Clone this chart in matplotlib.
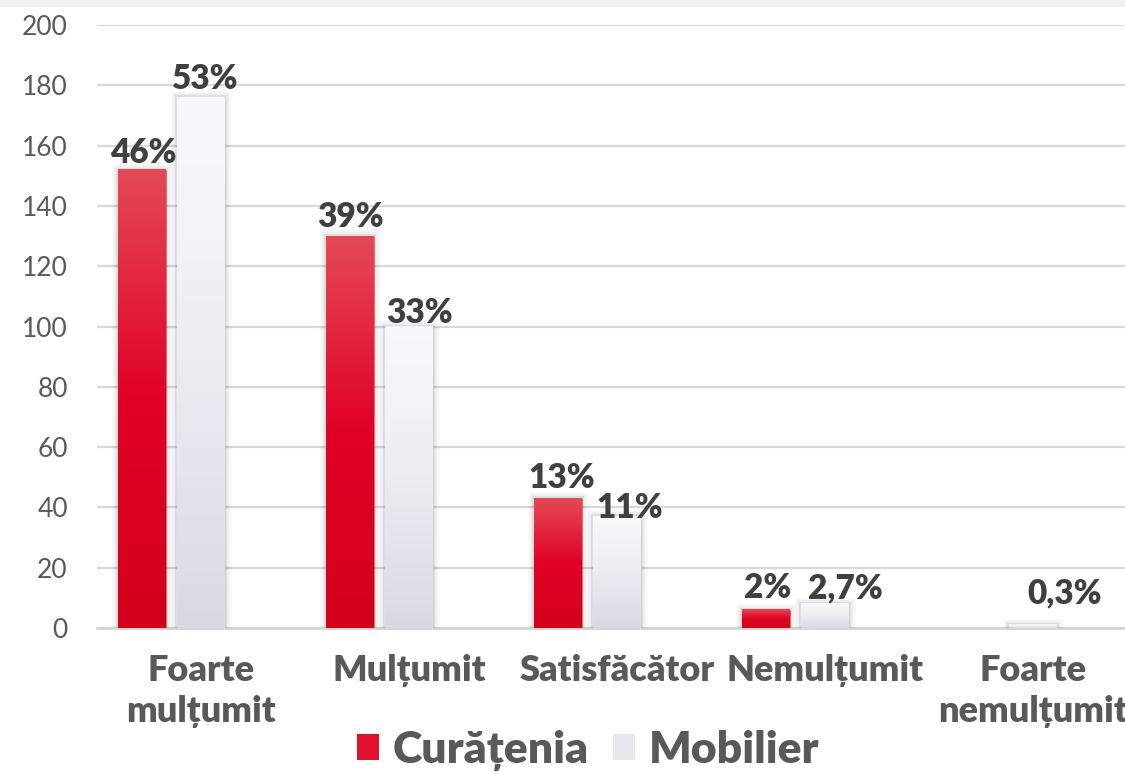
import numpy as np
import matplotlib
matplotlib.use("Agg")
import matplotlib.pyplot as plt
from matplotlib.patches import Patch, Rectangle
from matplotlib.colors import LinearSegmentedColormap
import matplotlib.patheffects as pe

plt.rcParams['font.family'] = ['Lato', 'DejaVu Sans']

# --- data -------------------------------------------------------------
categories = ["Foarte\nmulțumit", "Mulțumit", "Satisfăcător", "Nemulțumit",
              "Foarte\nnemulțumit"]
series_names = ["Curățenia", "Mobilier"]
curatenia = [152, 130, 43, 6, 0]
mobilier = [176, 100, 37, 8, 1]
curatenia_labels = ["46%", "39%", "13%", "2%", ""]
mobilier_labels = ["53%", "33%", "11%", "2,7%", "0,3%"]
yticks = [0, 20, 40, 60, 80, 100, 120, 140, 160, 180, 200]

# label nudges in pixels (dx, dy above bar top)
cur_nudge = [(1, 7), (0, 9), (4, 10), (2, 12), (0, 0)]
mob_nudge = [(4, 8), (10, 4), (13, -2), (20, 6), (32, 22)]

# --- figure -----------------------------------------------------------
W, H = 1125, 773
fig = plt.figure(figsize=(W / 100, H / 100), dpi=100)
fig.patches.append(Rectangle((0, 1 - 7 / H), 1, 7 / H, transform=fig.transFigure,
                             facecolor="#f0f0f0", edgecolor="none", zorder=0))

ax = fig.add_axes([97 / W, 1 - 628 / H, 1040 / W, 603 / H])
ax.set_xlim(-0.5, 4.5)
ax.set_ylim(0, 200)

x = np.arange(len(categories))
bw = 48 / 208
red_x = x - 59 / 208

red_cmap = LinearSegmentedColormap.from_list(
    "red", [(0, (228/255, 74/255, 86/255)), (0.5, (224/255, 0, 37/255)),
            (1, (211/255, 0, 26/255))])
white_cmap = LinearSegmentedColormap.from_list(
    "white", [(0, (249/255, 249/255, 252/255)), (0.5, (236/255, 237/255, 243/255)),
              (1, (215/255, 218/255, 227/255))])

shadow = [pe.Stroke(linewidth=9, foreground=(0, 0, 0, 0.025)),
          pe.Stroke(linewidth=6, foreground=(0, 0, 0, 0.04)),
          pe.Stroke(linewidth=3, foreground=(0, 0, 0, 0.07)),
          pe.Normal()]

grad = np.linspace(0, 1, 256).reshape(-1, 1)


def draw_series(xpos, vals, cmap, base_color):
    bars = ax.bar(xpos, vals, width=bw, color=base_color, edgecolor="none",
                  zorder=3)
    for b, v in zip(bars, vals):
        if v <= 0:
            b.set_visible(False)
            continue
        b.set_path_effects(shadow)
        x0, w = b.get_x(), b.get_width()
        ax.imshow(grad, cmap=cmap, aspect="auto", extent=(x0, x0 + w, 0, v),
                  origin="upper", zorder=4, interpolation="bilinear")
    return bars


draw_series(red_x, curatenia, red_cmap, "#dc1430")
draw_series(x, mobilier, white_cmap, "#e8e9ef")

# value labels
for xs, vals, labs, nudges in [(red_x, curatenia, curatenia_labels, cur_nudge),
                               (x, mobilier, mobilier_labels, mob_nudge)]:
    for xi, v, lab, (dx, dy) in zip(xs, vals, labs, nudges):
        if not lab:
            continue
        ax.annotate(lab, (xi, v), xytext=(dx, dy), textcoords="offset pixels",
                    ha="center", va="baseline", fontsize=24, fontweight="heavy",
                    color="#404040", zorder=6, annotation_clip=False)

# axes styling
ax.set_xlim(-0.5, 4.5)
ax.set_ylim(0, 200)
ax.set_yticks(yticks)
ax.set_yticklabels([str(t) for t in yticks])
ax.yaxis.grid(True, color="#d9d9d9", linewidth=1.6, zorder=0)
ax.set_axisbelow(True)
for s in ["top", "right", "left"]:
    ax.spines[s].set_visible(False)
ax.spines["bottom"].set_color("#d4d4d4")
ax.spines["bottom"].set_linewidth(2)
ax.tick_params(axis="y", length=0, pad=21, labelsize=19, labelcolor="#595959")
ax.tick_params(axis="x", length=0, pad=19, labelsize=26, labelcolor="#595959")
ax.set_xticks(x)
ax.set_xticklabels(categories, fontweight="heavy", linespacing=1.3)

# legend
handles = [Patch(facecolor="#e0102e", edgecolor="none"),
           Patch(facecolor="#e6e7ee", edgecolor="none")]
fig.legend(handles, series_names, loc="lower center", ncol=2,
           bbox_to_anchor=(588 / W, -0.026), frameon=False,
           prop={"size": 32, "weight": "heavy"}, labelcolor="#595959",
           handlelength=0.5, handleheight=0.5, handletextpad=0.3,
           columnspacing=0.55, borderaxespad=0.1)

fig.savefig("out.png", dpi=100)
